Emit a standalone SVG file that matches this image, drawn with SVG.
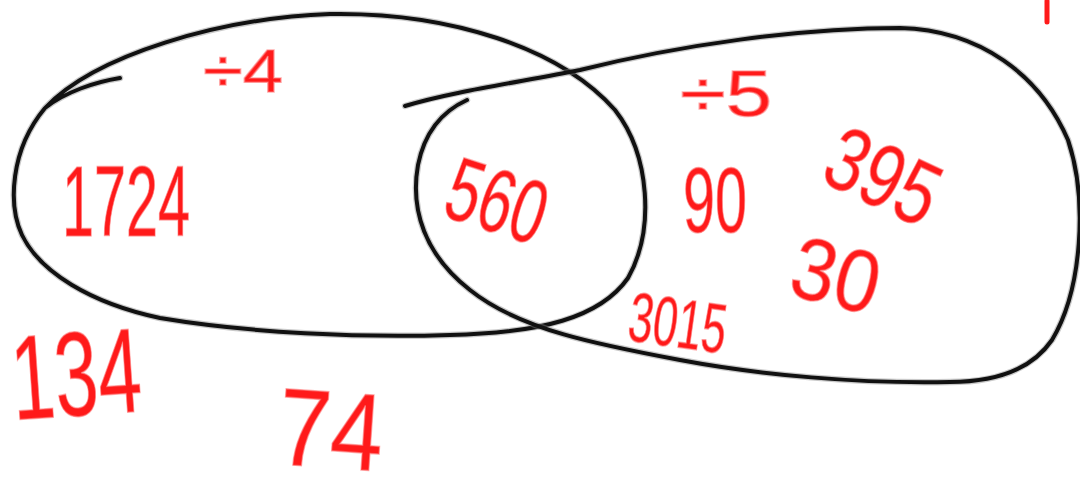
<svg xmlns="http://www.w3.org/2000/svg" width="1080" height="494" viewBox="0 0 1080 494">
<style>
.ink{fill:none;stroke:#111;stroke-width:4;stroke-linecap:round;stroke-linejoin:round}
.halo{fill:none;stroke:#888;stroke-width:6.5;stroke-opacity:0.45;stroke-linecap:round}
.num{font-family:"Liberation Sans",Arial,sans-serif;fill:#ff1a1a;stroke:#ff8080;stroke-width:1.5;stroke-opacity:0.6}
</style>
<rect width="1080" height="494" fill="#fff"/>
<g id="connectors">
<g id="left-set">
<path class="halo" d="M120,78 C95,82 65,92 45,108 C95,55 220,18 330,14 C450,12 560,48 615,110 C650,155 655,230 628,278 C600,318 540,333 450,335 C360,338 250,333 160,318 C90,303 40,272 22,235 C8,205 10,150 45,108"/>
<path class="ink" d="M120,78 C95,82 65,92 45,108 C95,55 220,18 330,14 C450,12 560,48 615,110 C650,155 655,230 628,278 C600,318 540,333 450,335 C360,338 250,333 160,318 C90,303 40,272 22,235 C8,205 10,150 45,108"/>
</g>
<g id="right-set">
<path class="halo" d="M405,106 C450,92 520,82 580,70 C680,45 800,28 900,28 C980,30 1040,75 1068,140 C1088,200 1082,290 1052,340 C1030,372 990,382 950,382 C860,384 760,375 680,360 C600,345 520,330 470,290 C425,255 410,210 418,165 C425,130 445,110 467,100"/>
<path class="ink" d="M405,106 C450,92 520,82 580,70 C680,45 800,28 900,28 C980,30 1040,75 1068,140 C1088,200 1082,290 1052,340 C1030,372 990,382 950,382 C860,384 760,375 680,360 C600,345 520,330 470,290 C425,255 410,210 418,165 C425,130 445,110 467,100"/>
</g>
<line x1="1047" y1="1" x2="1047" y2="22" stroke="#ff1a1a" stroke-width="5" stroke-linecap="round"/>
</g>
<g id="labels">
<g id="div4"><text class="num" x="203" y="92" font-size="62" textLength="80" lengthAdjust="spacingAndGlyphs">÷4</text></g>
<g id="div5"><text class="num" x="680" y="116" font-size="64" textLength="92" lengthAdjust="spacingAndGlyphs">÷5</text></g>
<g id="n1724"><text class="num" x="62" y="236" font-size="100" textLength="128" lengthAdjust="spacingAndGlyphs">1724</text></g>
<g id="n560"><text class="num" transform="translate(440,215) rotate(18)" font-size="90" textLength="100" lengthAdjust="spacingAndGlyphs">560</text></g>
<g id="n90"><text class="num" x="683" y="232" font-size="92" textLength="64" lengthAdjust="spacingAndGlyphs">90</text></g>
<g id="n395"><text class="num" transform="translate(818,180) rotate(25)" font-size="90" textLength="115" lengthAdjust="spacingAndGlyphs">395</text></g>
<g id="n30"><text class="num" transform="translate(786,294) rotate(14)" font-size="88" textLength="88" lengthAdjust="spacingAndGlyphs">30</text></g>
<g id="n3015"><text class="num" transform="translate(626,340) rotate(8)" font-size="70" textLength="98" lengthAdjust="spacingAndGlyphs">3015</text></g>
<g id="n134"><text class="num" transform="translate(14,420) rotate(-4)" font-size="120" textLength="130" lengthAdjust="spacingAndGlyphs">134</text></g>
<g id="n74"><text class="num" transform="translate(276,464) rotate(4)" font-size="110" textLength="105" lengthAdjust="spacingAndGlyphs">74</text></g>
</g>
</svg>
